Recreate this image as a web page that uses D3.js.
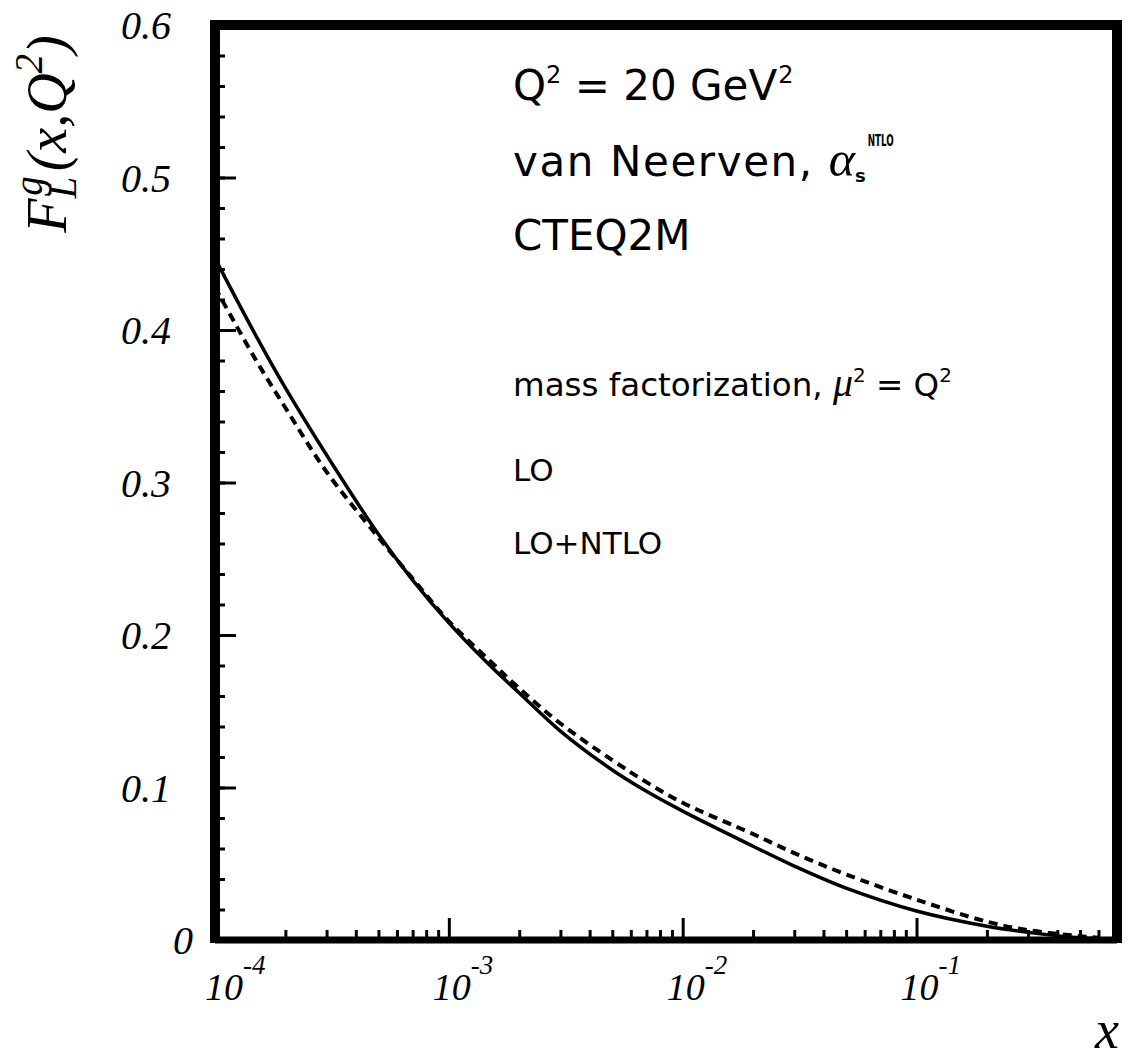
<!DOCTYPE html>
<html>
<head>
<meta charset="utf-8">
<script src="https://cdn.jsdelivr.net/npm/d3@7"></script>
<style>
  body { margin: 0; background: #fff; }
  .serif { font-family: "Liberation Serif", "DejaVu Serif", serif; font-style: italic; }
  .sans { font-family: "DejaVu Sans", sans-serif; }
</style>
</head>
<body>
<div id="chart"></div>
<script>
// F_L^g(x,Q^2) at Q^2 = 20 GeV^2

var xValues = [1e-4, 1.5e-4, 2e-4, 3e-4, 5e-4, 7e-4, 1e-3, 1.5e-3, 2e-3, 3e-3, 5e-3, 7e-3,
               1e-2, 2e-2, 3e-2, 5e-2, 0.1, 0.2, 0.3, 0.5, 0.6];
var solidValues = [0.447, 0.396, 0.362, 0.318, 0.266, 0.236, 0.208, 0.180, 0.162, 0.137, 0.1115, 0.0975,
                   0.0845, 0.0615, 0.0485, 0.034, 0.019, 0.009, 0.005, 0.0015, 0.001];
var dashedValues = [0.428, 0.380, 0.349, 0.307, 0.264, 0.237, 0.209, 0.183, 0.165, 0.142, 0.118, 0.1035,
                    0.090, 0.0695, 0.057, 0.043, 0.0265, 0.012, 0.0065, 0.0025, 0.0015];

var xMajorTicks = [1e-4, 1e-3, 1e-2, 1e-1];
var xMajorExponents = ["-4", "-3", "-2", "-1"];
var yMajorTicks = [0, 0.1, 0.2, 0.3, 0.4, 0.5, 0.6];
var yTickLabels = ["0", "0.1", "0.2", "0.3", "0.4", "0.5", "0.6"];

var width = 1128, height = 1059;
var plotLeft = 215, plotRight = 1117, plotTop = 25, plotBottom = 940;

var svg = d3.select("#chart")
  .append("svg")
  .attr("width", width)
  .attr("height", height)
  .style("background", "#fff");

var x = d3.scaleLog().domain([1e-4, 0.72]).range([plotLeft, plotRight]);
var y = d3.scaleLinear().domain([0, 0.6]).range([plotBottom, plotTop]);

// ticks (drawn inward, labels done by hand because of the exponents)
function tickAxis(axis, translate, size, values) {
  var g = svg.append("g")
    .attr("transform", translate)
    .call(axis.tickValues(values).tickSize(size).tickFormat(""));
  g.select(".domain").remove();
  g.selectAll("line").attr("stroke", "#000").attr("stroke-width", 3);
  return g;
}

var xMinor = x.ticks().filter(function (v) { return xMajorTicks.indexOf(v) < 0; });
tickAxis(d3.axisBottom(x), "translate(0," + plotBottom + ")", -10, xMinor);
tickAxis(d3.axisBottom(x), "translate(0," + plotBottom + ")", -22, xMajorTicks);

var yMinor = y.ticks(30);
tickAxis(d3.axisLeft(y), "translate(" + plotLeft + ",0)", -10, yMinor);
tickAxis(d3.axisLeft(y), "translate(" + plotLeft + ",0)", -21, yMajorTicks);

// frame
svg.append("g").selectAll("line")
  .data([
    [plotLeft, plotTop, plotRight, plotTop, 10],
    [plotLeft, plotTop - 5, plotLeft, plotBottom + 3, 10],
    [plotRight, plotTop - 5, plotRight, plotBottom + 3, 10],
    [plotLeft, plotBottom, plotRight, plotBottom, 7]
  ])
  .enter()
  .append("line")
  .attr("x1", function (d) { return d[0]; })
  .attr("y1", function (d) { return d[1]; })
  .attr("x2", function (d) { return d[2]; })
  .attr("y2", function (d) { return d[3]; })
  .attr("stroke", "#000")
  .attr("stroke-width", function (d) { return d[4]; });

// curves
var line = d3.line()
  .x(function (d) { return x(d[0]); })
  .y(function (d) { return y(d[1]); })
  .curve(d3.curveCatmullRom.alpha(0.5));

svg.append("path")
  .datum(d3.zip(xValues, solidValues))
  .attr("d", line)
  .attr("fill", "none")
  .attr("stroke", "#000")
  .attr("stroke-width", 3.5);

svg.append("path")
  .datum(d3.zip(xValues, dashedValues))
  .attr("d", line)
  .attr("fill", "none")
  .attr("stroke", "#000")
  .attr("stroke-width", 4)
  .style("stroke-dasharray", "9, 6");

// y tick labels
svg.append("g").selectAll("text")
  .data(yMajorTicks)
  .enter()
  .append("text")
  .attr("class", "serif")
  .attr("x", function (d, i) { return i === 0 ? 193 : 171; })
  .attr("y", function (d) { return y(d); })
  .attr("dy", "0.36em")
  .attr("text-anchor", "end")
  .style("font-size", "40px")
  .text(function (d, i) { return yTickLabels[i]; });

// x tick labels 10^n
var xl = svg.append("g").selectAll("text")
  .data(xMajorTicks)
  .enter()
  .append("text")
  .attr("class", "serif")
  .attr("x", function (d) { return Math.max(x(d) - 16, 205); })
  .attr("y", 1000)
  .style("font-size", "38px");
xl.append("tspan").text("10");
xl.append("tspan")
  .attr("dy", -26)
  .style("font-size", "27px")
  .text(function (d, i) { return xMajorExponents[i]; });

// axis titles
svg.append("text")
  .attr("class", "serif")
  .attr("x", 1095)
  .attr("y", 1048)
  .style("font-size", "54px")
  .text("x");

var yt = svg.append("text")
  .attr("class", "serif")
  .attr("transform", "translate(66,134) rotate(-90)")
  .attr("text-anchor", "middle")
  .style("font-size", "56px");
yt.append("tspan").text("F");
yt.append("tspan").attr("dy", 10).style("font-size", "39px").text("L");
yt.append("tspan").attr("dx", -19).attr("dy", -34).style("font-size", "39px").text("g");
yt.append("tspan").attr("dx", 5).attr("dy", 24).text("(x,Q");
yt.append("tspan").attr("dy", -24).style("font-size", "39px").text("2");
yt.append("tspan").attr("dy", 24).text(")");

// annotations
var t1 = svg.append("text").attr("class", "sans").attr("x", 513).attr("y", 100).style("font-size", "42px");
t1.append("tspan").text("Q");
t1.append("tspan").attr("dy", -17).style("font-size", "24px").text("2");
t1.append("tspan").attr("dy", 17).text(" = 20 GeV");
t1.append("tspan").attr("dy", -17).attr("dx", 1).style("font-size", "24px").text("2");

var t2 = svg.append("text").attr("class", "sans").attr("x", 513).attr("y", 176).style("font-size", "42px");
t2.append("tspan").style("letter-spacing", "1.6px").text("van Neerven, ");
t2.append("tspan").attr("class", "serif").style("font-size", "50px").text("\u03b1");
t2.append("tspan").attr("dy", 6).style("font-size", "18px").style("font-weight", "bold").text("s");
t2.append("tspan").attr("dx", 2).attr("dy", -36)
  .style("font-size", "16px").style("font-weight", "bold")
  .attr("textLength", 26).attr("lengthAdjust", "spacingAndGlyphs")
  .text("NTLO");

svg.append("text").attr("class", "sans").attr("x", 513).attr("y", 250)
  .style("font-size", "42px").text("CTEQ2M");

var t4 = svg.append("text").attr("class", "sans").attr("x", 513).attr("y", 396).style("font-size", "32.5px");
t4.append("tspan").text("mass factorization, ");
t4.append("tspan").attr("class", "serif").style("font-size", "40px").text("\u03bc");
t4.append("tspan").attr("dy", -14).style("font-size", "20px").text("2");
t4.append("tspan").attr("dy", 14).text(" = Q");
t4.append("tspan").attr("dy", -14).style("font-size", "20px").text("2");

svg.append("text").attr("class", "sans").attr("x", 513).attr("y", 481)
  .style("font-size", "31px").text("LO");
svg.append("text").attr("class", "sans").attr("x", 513).attr("y", 554)
  .style("font-size", "31px").text("LO+NTLO");
</script>
</body>
</html>
